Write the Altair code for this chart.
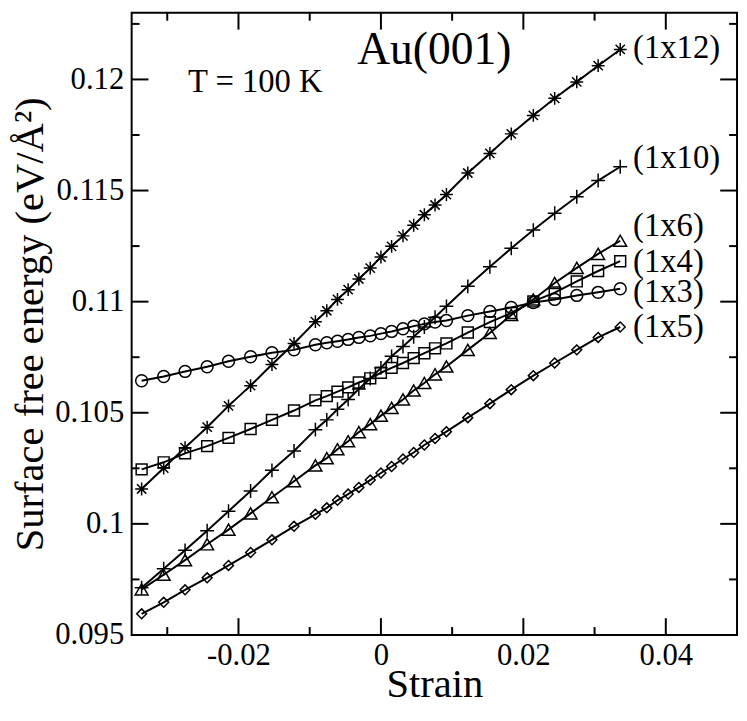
import altair as alt
import pandas as pd

# ---------------- data ----------------
strain = [-0.0336, -0.0305, -0.0275, -0.0244, -0.0214, -0.0183, -0.0153, -0.0122,
          -0.0092, -0.0076, -0.0061, -0.0046, -0.0031, -0.0015, 0.0, 0.0015,
          0.0031, 0.0046, 0.0061, 0.0076, 0.0092, 0.0122, 0.0153, 0.0183,
          0.0214, 0.0244, 0.0275, 0.0305, 0.0336]

e_1x12 = [0.10157, 0.10251, 0.10343, 0.10435, 0.10531, 0.10622, 0.10717, 0.10812,
          0.10910, 0.10959, 0.11010, 0.11054, 0.11102, 0.11151, 0.11201, 0.11249,
          0.11296, 0.11344, 0.11391, 0.11435, 0.11482, 0.11579, 0.11667, 0.11755,
          0.11838, 0.11915, 0.11989, 0.12062, 0.12135]

e_1x10 = [0.09713, 0.09798, 0.09881, 0.09969, 0.10057, 0.10148, 0.10241, 0.10328,
          0.10424, 0.10468, 0.10516, 0.10560, 0.10607, 0.10654, 0.10702, 0.10754,
          0.10798, 0.10842, 0.10886, 0.10930, 0.10979, 0.11069, 0.11157, 0.11240,
          0.11322, 0.11398, 0.11472, 0.11545, 0.11607]

e_1x6 = [0.09705, 0.09771, 0.09837, 0.09908, 0.09974, 0.10047, 0.10120, 0.10192,
         0.10263, 0.10296, 0.10336, 0.10372, 0.10413, 0.10449, 0.10487, 0.10522,
         0.10560, 0.10600, 0.10634, 0.10673, 0.10708, 0.10783, 0.10859, 0.10940,
         0.11010, 0.11084, 0.11152, 0.11215, 0.11274]

e_1x4 = [0.10245, 0.10277, 0.10317, 0.10350, 0.10387, 0.10427, 0.10468, 0.10510,
         0.10556, 0.10575, 0.10595, 0.10614, 0.10636, 0.10655, 0.10680, 0.10702,
         0.10724, 0.10746, 0.10768, 0.10790, 0.10812, 0.10861, 0.10908, 0.10949,
         0.11001, 0.11041, 0.11091, 0.11138, 0.11182]

e_1x3 = [0.10644, 0.10663, 0.10686, 0.10707, 0.10732, 0.10752, 0.10770, 0.10783,
         0.10806, 0.10815, 0.10822, 0.10830, 0.10839, 0.10846, 0.10856, 0.10866,
         0.10878, 0.10890, 0.10900, 0.10908, 0.10915, 0.10937, 0.10956, 0.10974,
         0.10996, 0.11010, 0.11028, 0.11042, 0.11058]

e_1x5 = [0.09595, 0.09647, 0.09703, 0.09757, 0.09813, 0.09871, 0.09928, 0.09989,
         0.10043, 0.10072, 0.10106, 0.10134, 0.10164, 0.10197, 0.10229, 0.10258,
         0.10292, 0.10321, 0.10355, 0.10384, 0.10415, 0.10478, 0.10541, 0.10604,
         0.10667, 0.10724, 0.10783, 0.10839, 0.10886]

series_names = ["(1x12)", "(1x10)", "(1x6)", "(1x4)", "(1x3)", "(1x5)"]
series_values = [e_1x12, e_1x10, e_1x6, e_1x4, e_1x3, e_1x5]

x_major = [-0.02, 0.0, 0.02, 0.04]
x_minor = [-0.03, -0.01, 0.01, 0.03]
y_major = [0.095, 0.1, 0.105, 0.11, 0.115, 0.12]
y_minor = [0.0975, 0.1025, 0.1075, 0.1125, 0.1175, 0.1225]

# ---------------- styles ----------------
ASTERISK = "M-1,0L1,0M0,-1L0,1M-0.72,-0.72L0.72,0.72M-0.72,0.72L0.72,-0.72"
PLUS = "M-1,0L1,0M0,-1L0,1"
shapes = [ASTERISK, PLUS, "triangle-up", "square", "circle", "diamond"]
sizes = [169, 196, 169, 121, 144, 100]
label_dy = [-1, -9, -15, 1, 3, 0]

FONT = "Liberation Serif"
W, H = 612, 629

rows = []
for name, vals in zip(series_names, series_values):
    for x, y in zip(strain, vals):
        rows.append({"series": name, "strain": x, "energy": y})
df = pd.DataFrame(rows)

xs = alt.Scale(domain=[-0.035, 0.05], nice=False, zero=False)
ys = alt.Scale(domain=[0.095, 0.123], nice=False, zero=False)

x_axis = alt.Axis(values=x_major, labelExpr="toString(datum.value)", ticks=False,
                  domain=False, grid=False, labelPadding=6, labelFlush=False,
                  labelOverlap=False, title="Strain",
                  titleBaseline="alphabetic", titleY=62)
y_axis = alt.Axis(values=y_major, labelExpr="toString(datum.value)", ticks=False,
                  domain=False, grid=False, labelPadding=8, labelFlush=False,
                  labelOverlap=False, title="Surface free energy (eV/Å²)",
                  titlePadding=3)


def X(field):
    return alt.X(field, scale=xs, axis=x_axis, title="Strain")


def Y(field):
    return alt.Y(field, scale=ys, axis=y_axis, title="Surface free energy (eV/Å²)")


lines = alt.Chart(df).mark_line(color="black", strokeWidth=2).encode(
    x=X("strain:Q"), y=Y("energy:Q"), detail="series:N",
)

layers = [lines]
for name, shp, sz, dy in zip(series_names, shapes, sizes, label_dy):
    sub = df[df["series"] == name]
    pts = alt.Chart(sub).mark_point(shape=shp, size=sz, filled=False, color="black",
                                    strokeWidth=1.5, opacity=1).encode(
        x=X("strain:Q"), y=Y("energy:Q"),
    )
    last = sub[sub["strain"] == sub["strain"].max()]
    lab = alt.Chart(last).mark_text(align="left", baseline="middle", dx=13, dy=dy,
                                    font=FONT, fontSize=33, color="black").encode(
        x=X("strain:Q"), y=Y("energy:Q"), text="series:N",
    )
    layers += [pts, lab]


# inward ticks on all four sides
def xticks(vals, length):
    c = alt.Chart(pd.DataFrame({"strain": vals}))
    bot = c.mark_rule(color="black", strokeWidth=2).encode(
        x=X("strain:Q"), y=alt.value(H), y2=alt.value(H - length))
    top = c.mark_rule(color="black", strokeWidth=2).encode(
        x=X("strain:Q"), y=alt.value(0), y2=alt.value(length))
    return [bot, top]


def yticks(vals, length):
    c = alt.Chart(pd.DataFrame({"energy": vals}))
    left = c.mark_rule(color="black", strokeWidth=2).encode(
        y=Y("energy:Q"), x=alt.value(0), x2=alt.value(length))
    right = c.mark_rule(color="black", strokeWidth=2).encode(
        y=Y("energy:Q"), x=alt.value(W), x2=alt.value(W - length))
    return [left, right]


layers += xticks(x_major, 17) + xticks(x_minor, 8) + yticks(y_major, 17) + yticks(y_minor, 8)

# annotations
ann_t = alt.Chart(pd.DataFrame({"t": ["T = 100 K"]})).mark_text(
    font=FONT, fontSize=33, color="black", baseline="middle", align="center").encode(
    x=alt.value(125), y=alt.value(70), text="t:N")
ann_au = alt.Chart(pd.DataFrame({"t": ["Au(001)"]})).mark_text(
    font=FONT, fontSize=46, color="black", baseline="middle", align="center").encode(
    x=alt.value(306), y=alt.value(38), text="t:N")
layers += [ann_t, ann_au]

chart = alt.layer(*layers).properties(
    width=W, height=H,
    autosize=alt.AutoSizeParams(type="none"),
    padding={"left": 125, "top": 1, "right": 2, "bottom": 70},
    background="white",
).configure_view(
    stroke="black", strokeWidth=2
).configure_axis(
    labelFont=FONT, labelFontSize=31, labelColor="black",
    titleFont=FONT, titleFontSize=41, titleFontWeight="normal", titleColor="black",
)

chart.save("out.html", embed_options={"renderer": "svg", "actions": False})
